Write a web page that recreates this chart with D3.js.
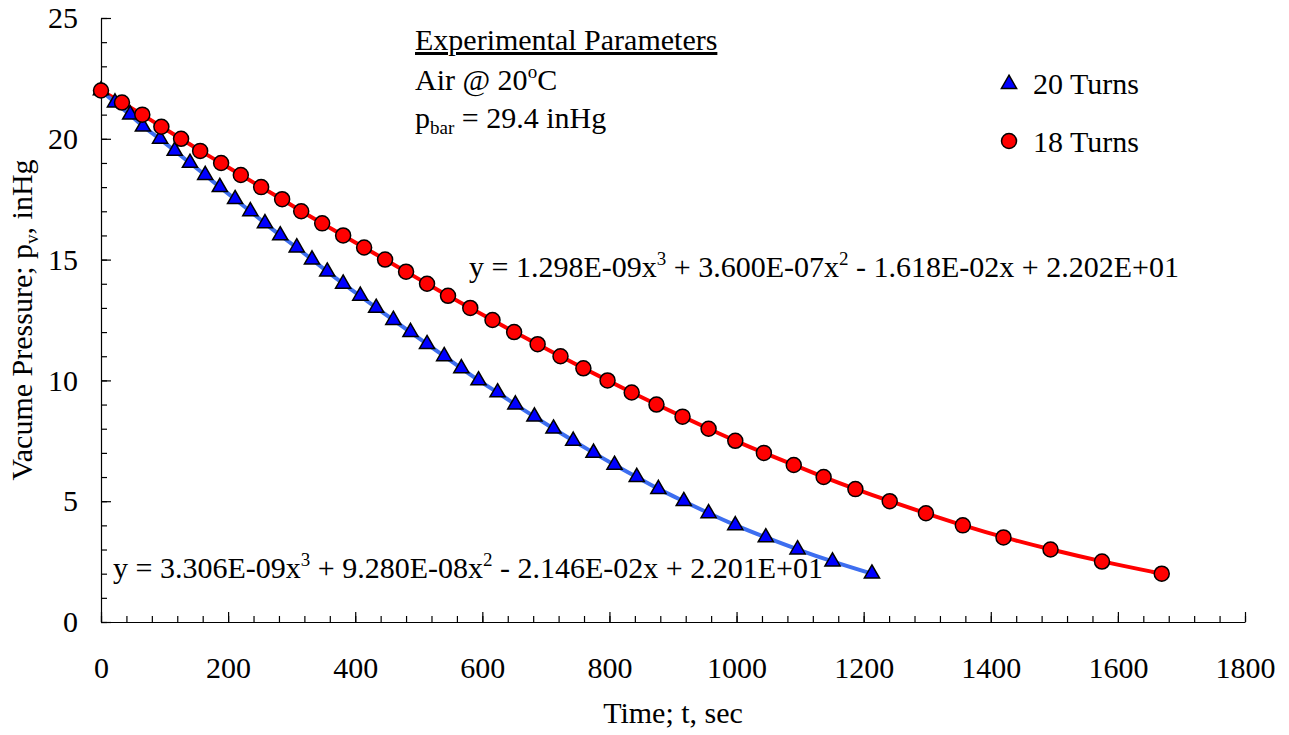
<!DOCTYPE html>
<html>
<head>
<meta charset="utf-8">
<script src="https://cdn.jsdelivr.net/npm/d3@7"></script>
<style>
  body { margin: 0; background: white; }
  text { font-family: "Liberation Serif", "Times New Roman", serif; fill: black; }
</style>
</head>
<body>
<div id="container"></div>
<script>
// pressure levels (inHg), same for both runs
const pressures = [22, 21.5, 21, 20.5, 20, 19.5, 19, 18.5, 18, 17.5, 17, 16.5, 16, 15.5, 15, 14.5, 14, 13.5, 13, 12.5,
  12, 11.5, 11, 10.5, 10, 9.5, 9, 8.5, 8, 7.5, 7, 6.5, 6, 5.5, 5, 4.5, 4, 3.5, 3, 2.5, 2]

// times (sec)
const time20 = [0, 22, 46, 66, 93, 116, 140, 164, 187, 211, 235, 258, 282, 308, 332, 356, 381, 408, 433, 460,
  487, 513, 540, 567, 594, 624, 652, 682, 712, 743, 775, 808, 843, 877, 917, 956, 998, 1046, 1096, 1151, 1213]
const time18 = [0, 33, 65, 95, 126, 156, 189, 220, 252, 285, 315, 348, 381, 414, 447, 480, 513, 546, 581, 616,
  650, 687, 723, 759, 797, 835, 874, 915, 956, 998, 1043, 1090, 1137, 1187, 1241, 1298, 1356, 1420, 1494, 1575, 1669]

const xTicks = [0, 200, 400, 600, 800, 1000, 1200, 1400, 1600, 1800]
const yTicks = [0, 5, 10, 15, 20, 25]

const w = 1289
const h = 735
const margin = { left: 101, right: 44, top: 18, bottom: 113 }
const fs = '30px'
const fsSmall = '19px'

const svg = d3.select('#container')
  .append('svg')
    .attr('width', w)
    .attr('height', h)

const scaleX = d3.scaleLinear()
  .domain([0, 1800])
  .range([margin.left, w - margin.right])

const scaleY = d3.scaleLinear()
  .domain([0, 25])
  .range([h - margin.bottom, margin.top])

// minor ticks
svg.append('g')
  .attr('transform', `translate(0, ${h - margin.bottom})`)
  .call(d3.axisBottom(scaleX).tickValues(d3.range(0, 1801, 40)).tickSize(-6).tickFormat(''))
  .call(g => g.select('.domain').remove())

svg.append('g')
  .attr('transform', `translate(${margin.left}, 0)`)
  .call(d3.axisLeft(scaleY).tickValues(d3.range(0, 26, 1)).tickSize(-6).tickFormat(''))
  .call(g => g.select('.domain').remove())

// major ticks + labels
svg.append('g')
  .attr('id', 'x-axis')
  .attr('transform', `translate(0, ${h - margin.bottom})`)
  .call(d3.axisBottom(scaleX).tickValues(xTicks).tickFormat(d3.format('d')).tickSizeInner(-10).tickSizeOuter(0).tickPadding(35))
  .call(g => g.selectAll('text').style('font-size', fs).style('font-family', '"Liberation Serif", serif'))

svg.append('g')
  .attr('id', 'y-axis')
  .attr('transform', `translate(${margin.left}, 0)`)
  .call(d3.axisLeft(scaleY).tickValues(yTicks).tickSizeInner(-10).tickSizeOuter(0).tickPadding(23))
  .call(g => g.selectAll('text').style('font-size', fs).style('font-family', '"Liberation Serif", serif'))

svg.selectAll('.domain, .tick line').attr('stroke', 'black').attr('stroke-width', 1.2)

// fit lines
const line = d3.line()
  .x(d => scaleX(d[0]))
  .y(d => scaleY(d[1]))
  .curve(d3.curveBasis)

svg.append('path')
  .datum(d3.zip(time18, pressures))
  .attr('d', line)
  .attr('fill', 'none')
  .attr('stroke', '#ff0000')
  .attr('stroke-width', 4)

svg.append('path')
  .datum(d3.zip(time20, pressures))
  .attr('d', line)
  .attr('fill', 'none')
  .attr('stroke', '#3d6ef0')
  .attr('stroke-width', 4)

// markers
const tri = d3.symbol().type(d3.symbolTriangle).size(100)

svg.selectAll('.tri')
  .data(d3.zip(time20, pressures))
  .enter()
  .append('path')
    .attr('class', 'tri')
    .attr('d', tri)
    .attr('transform', d => `translate(${scaleX(d[0])}, ${scaleY(d[1])})`)
    .attr('fill', '#0000ff')
    .attr('stroke', 'black')
    .attr('stroke-width', 1.5)

svg.selectAll('.dot')
  .data(d3.zip(time18, pressures))
  .enter()
  .append('circle')
    .attr('class', 'dot')
    .attr('cx', d => scaleX(d[0]))
    .attr('cy', d => scaleY(d[1]))
    .attr('r', 7.5)
    .attr('fill', '#ff0000')
    .attr('stroke', 'black')
    .attr('stroke-width', 1.5)

// axis titles
svg.append('text')
  .attr('x', 673)
  .attr('y', 723)
  .attr('text-anchor', 'middle')
  .style('font-size', fs)
  .text('Time; t, sec')

const yt = svg.append('text')
  .attr('transform', `translate(32, 320) rotate(-90)`)
  .attr('text-anchor', 'middle')
  .style('font-size', fs)
yt.append('tspan').text('Vacume Pressure; p')
yt.append('tspan').attr('dy', 6).style('font-size', fsSmall).text('v')
yt.append('tspan').attr('dy', -6).text(', inHg')

// equations
const eq = (x, y, parts) => {
  const t = svg.append('text').attr('x', x).attr('y', y).style('font-size', fs)
  parts.forEach(p => {
    if (p.sup) t.append('tspan').attr('dy', -12).style('font-size', fsSmall).text(p.sup)
    else t.append('tspan').attr('dy', p.after ? 12 : 0).text(p.t)
  })
}
eq(469, 277, [{ t: 'y = 1.298E-09x' }, { sup: '3' }, { t: ' + 3.600E-07x', after: true }, { sup: '2' },
  { t: ' - 1.618E-02x + 2.202E+01', after: true }])
eq(113, 578, [{ t: 'y = 3.306E-09x' }, { sup: '3' }, { t: ' + 9.280E-08x', after: true }, { sup: '2' },
  { t: ' - 2.146E-02x + 2.201E+01', after: true }])

// parameters box
svg.append('text')
  .attr('x', 415).attr('y', 50)
  .style('font-size', fs)
  .style('text-decoration', 'underline')
  .text('Experimental Parameters')

const air = svg.append('text').attr('x', 415).attr('y', 90).style('font-size', fs)
air.append('tspan').text('Air @ 20')
air.append('tspan').attr('dy', -12).style('font-size', fsSmall).text('o')
air.append('tspan').attr('dy', 12).text('C')

const pb = svg.append('text').attr('x', 415).attr('y', 128).style('font-size', fs)
pb.append('tspan').text('p')
pb.append('tspan').attr('dy', 6).style('font-size', fsSmall).text('bar')
pb.append('tspan').attr('dy', -6).text(' = 29.4 inHg')

// legend
svg.append('path')
  .attr('d', tri)
  .attr('transform', 'translate(1009, 84)')
  .attr('fill', '#0000ff')
  .attr('stroke', 'black')
  .attr('stroke-width', 1.5)
svg.append('text').attr('x', 1033).attr('y', 94).style('font-size', fs).text('20 Turns')

svg.append('circle')
  .attr('cx', 1009).attr('cy', 141).attr('r', 7.5)
  .attr('fill', '#ff0000')
  .attr('stroke', 'black')
  .attr('stroke-width', 1.5)
svg.append('text').attr('x', 1033).attr('y', 152).style('font-size', fs).text('18 Turns')
</script>
</body>
</html>
